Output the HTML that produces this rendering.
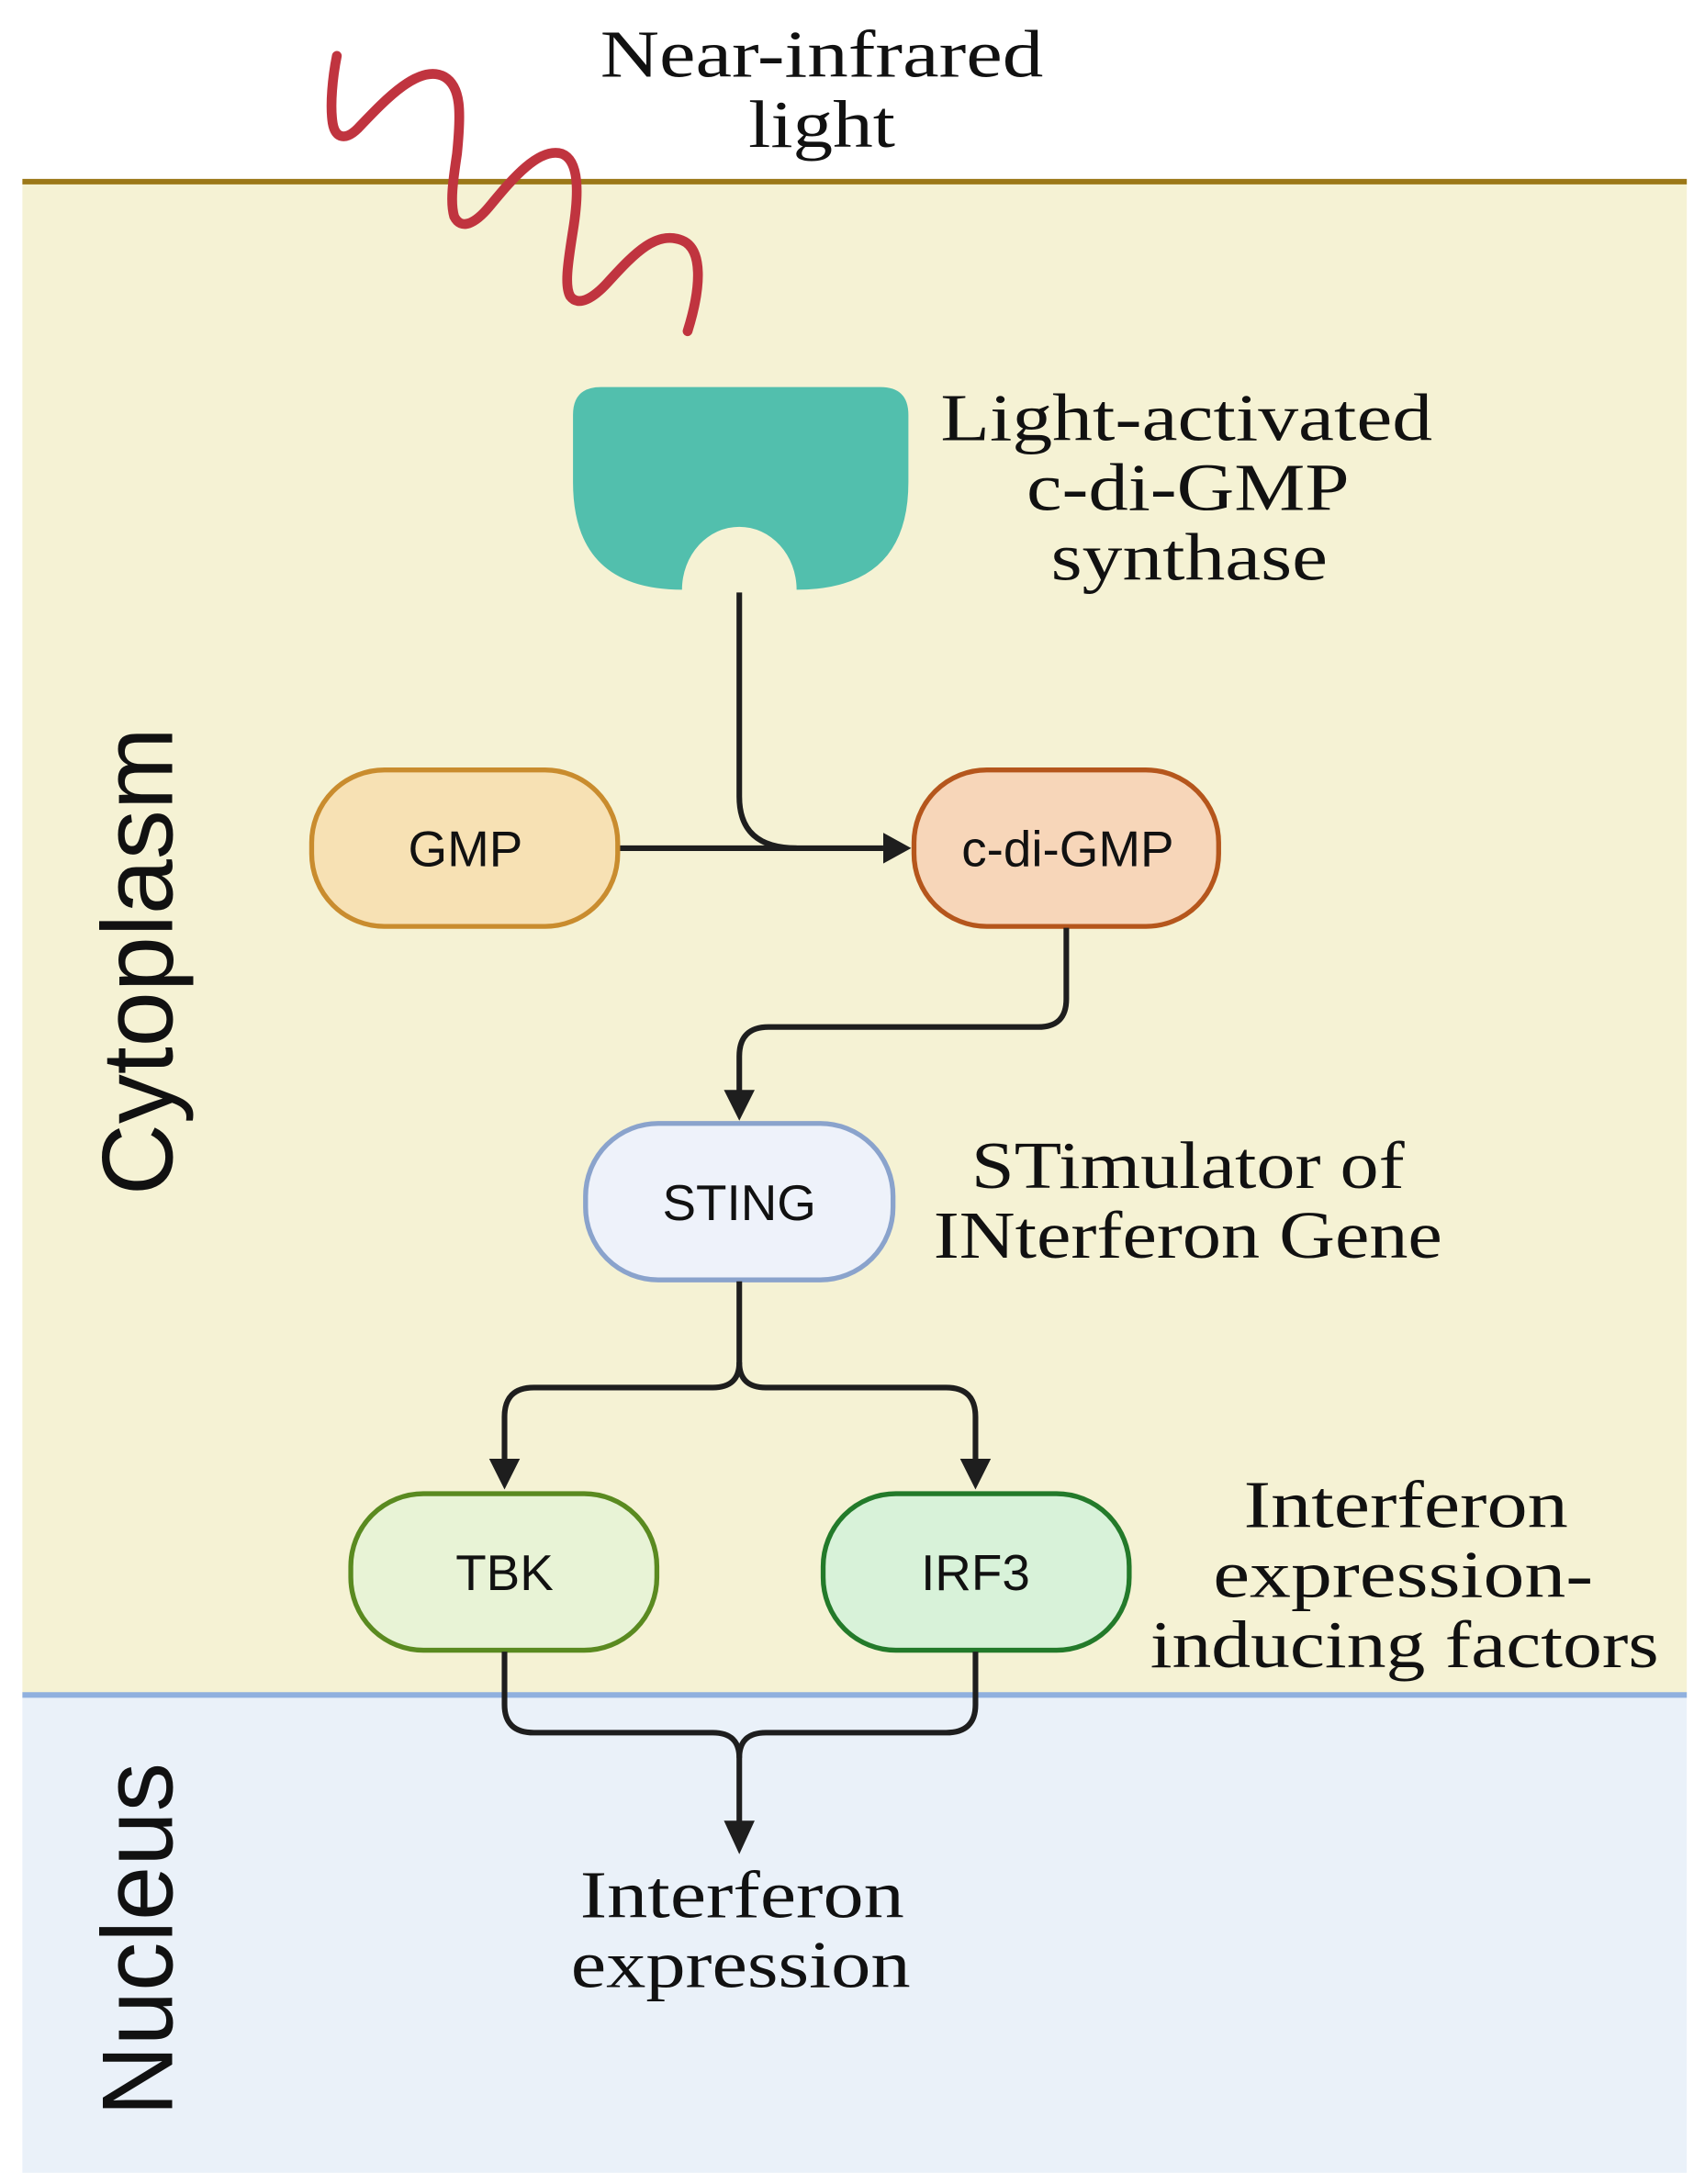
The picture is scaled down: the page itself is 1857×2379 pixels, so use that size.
<!DOCTYPE html>
<html><head><meta charset="utf-8"><style>
html,body{margin:0;padding:0;background:#fff;}
svg{display:block;}
.serif{font-family:"Liberation Serif",serif;font-size:48px;fill:#111;text-anchor:middle;}
.sans{font-family:"Liberation Sans",sans-serif;font-size:36px;fill:#111;text-anchor:middle;}
.big{font-family:"Liberation Sans",sans-serif;font-size:72px;fill:#111;text-anchor:middle;}
.ln{fill:none;stroke:#1e1e1e;stroke-width:4;}
</style></head><body>
<svg width="1857" height="2379" viewBox="0 0 1220 1563" xmlns="http://www.w3.org/2000/svg">
<rect x="0" y="0" width="1220" height="1563" fill="#fff"/>
<rect x="16" y="130" width="1191" height="1083" fill="#f5f2d4"/>
<rect x="16" y="1213" width="1191" height="342" fill="#eaf1f9"/>
<line x1="16" y1="130" x2="1207" y2="130" stroke="#9c7818" stroke-width="4"/>
<line x1="16" y1="1213" x2="1207" y2="1213" stroke="#90b0de" stroke-width="4"/>

<path d="M241,40 C238,55 236,75 238,88 C240,100 248,100 256,92 C275,72 300,45 318,55 C330,62 330,80 327,110 C324,130 322,145 325,155 C330,165 340,160 350,148 C365,130 385,105 402,110 C415,115 414,140 410,165 C406,190 404,205 408,212 C414,220 425,213 435,202 C455,180 470,165 488,172 C503,178 502,205 492,237" fill="none" stroke="#c0343f" stroke-width="7" stroke-linecap="round"/>

<text class="serif" x="588" y="55" textLength="317" lengthAdjust="spacingAndGlyphs">Near-infrared</text>
<text class="serif" x="588" y="105" textLength="105" lengthAdjust="spacingAndGlyphs">light</text>

<path d="M430,277 L630,277 Q650,277 650,297 L650,345 Q650,422 570,422 A41,45 0 0 0 488,422 Q410,422 410,345 L410,297 Q410,277 430,277 Z" fill="#52bfad"/>

<text class="serif" x="849" y="315" textLength="352" lengthAdjust="spacingAndGlyphs">Light-activated</text>
<text class="serif" x="850" y="365" textLength="231" lengthAdjust="spacingAndGlyphs">c-di-GMP</text>
<text class="serif" x="851" y="415" textLength="198" lengthAdjust="spacingAndGlyphs">synthase</text>

<path class="ln" d="M529,424 L529,570 Q529,607 570,607"/>
<path class="ln" d="M443,607 L632,607"/>
<polygon points="632,596 652,607 632,618" fill="#1e1e1e"/>

<rect x="223" y="551" width="219" height="112" rx="52" fill="#f7e1b4" stroke="#c98c2e" stroke-width="3.5"/>
<text class="sans" x="333" y="620">GMP</text>
<rect x="654" y="551" width="218" height="112" rx="52" fill="#f7d6b9" stroke="#b5561c" stroke-width="3.5"/>
<text class="sans" x="764" y="620">c-di-GMP</text>

<path class="ln" d="M763,664 L763,715 Q763,735 743,735 L550,735 Q529,735 529,756 L529,782"/>
<polygon points="518,780 529,802 540,780" fill="#1e1e1e"/>

<rect x="419" y="804" width="220" height="112" rx="52" fill="#eef2fa" stroke="#8aa3cc" stroke-width="3.5"/>
<text class="sans" x="529" y="873">STING</text>

<text class="serif" x="850" y="850" textLength="310" lengthAdjust="spacingAndGlyphs">STimulator of</text>
<text class="serif" x="850" y="900" textLength="364" lengthAdjust="spacingAndGlyphs">INterferon Gene</text>

<path class="ln" d="M529,917 L529,975 Q529,993 510,993 L382,993 Q361,993 361,1014 L361,1046"/>
<path class="ln" d="M529,975 Q529,993 548,993 L677,993 Q698,993 698,1014 L698,1046"/>
<polygon points="350,1044 361,1066 372,1044" fill="#1e1e1e"/>
<polygon points="687,1044 698,1066 709,1044" fill="#1e1e1e"/>

<rect x="251" y="1069" width="219" height="112" rx="52" fill="#e8f3d6" stroke="#5a8a20" stroke-width="3.5"/>
<text class="sans" x="361" y="1138">TBK</text>
<rect x="589" y="1069" width="219" height="112" rx="52" fill="#d8f2d9" stroke="#237a2a" stroke-width="3.5"/>
<text class="sans" x="698" y="1138">IRF3</text>

<text class="serif" x="1006" y="1093" textLength="232" lengthAdjust="spacingAndGlyphs">Interferon</text>
<text class="serif" x="1004" y="1143" textLength="272" lengthAdjust="spacingAndGlyphs">expression-</text>
<text class="serif" x="1005" y="1193" textLength="364" lengthAdjust="spacingAndGlyphs">inducing factors</text>

<path class="ln" d="M361,1182 L361,1220 Q361,1240 382,1240 L510,1240 Q529,1240 529,1258 L529,1305"/>
<path class="ln" d="M698,1182 L698,1220 Q698,1240 677,1240 L548,1240 Q529,1240 529,1258"/>
<polygon points="518,1303 529,1327 540,1303" fill="#1e1e1e"/>

<text class="serif" x="531" y="1372" textLength="232" lengthAdjust="spacingAndGlyphs">Interferon</text>
<text class="serif" x="530" y="1422" textLength="243" lengthAdjust="spacingAndGlyphs">expression</text>

<text class="big" transform="translate(123,688) rotate(-90)" textLength="335" lengthAdjust="spacingAndGlyphs">Cytoplasm</text>
<text class="big" transform="translate(123,1388) rotate(-90)" textLength="253" lengthAdjust="spacingAndGlyphs">Nucleus</text>
</svg>
</body></html>
